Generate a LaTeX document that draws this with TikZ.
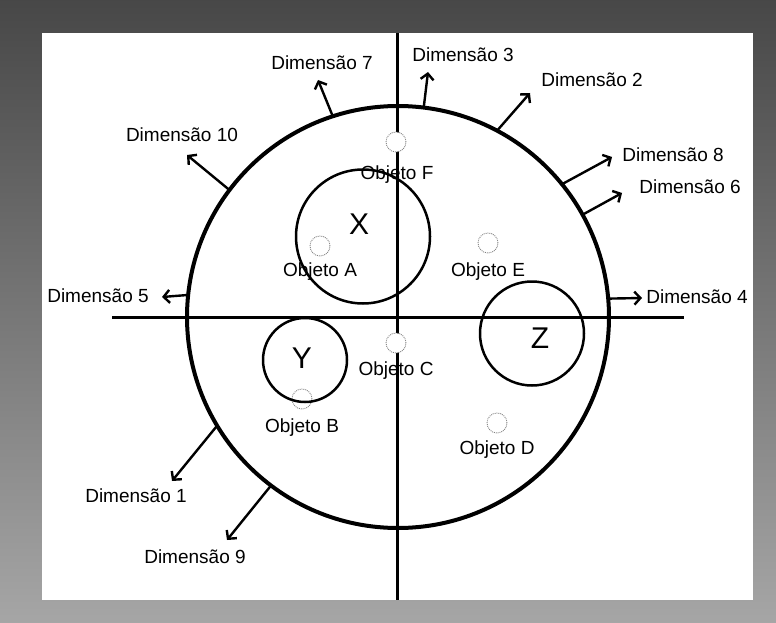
\documentclass[tikz,border=0pt]{standalone}
\usepackage{fontspec}
\setmainfont{Liberation Sans}
\usetikzlibrary{arrows.meta}
\begin{document}
\begin{tikzpicture}[x=1pt,y=-1pt,
  lbl/.style={font=\fontsize{19}{22}\selectfont, inner sep=0pt},
  letter/.style={font=\fontsize{30}{34}\selectfont, inner sep=0pt},
  ring/.style={draw, circle, inner sep=0pt, outer sep=0pt},
  obj/.style={draw=black!50, fill=white, densely dotted, circle, inner sep=0pt, outer sep=0pt, minimum size=20pt, line width=0.9pt},
  dimarrow/.style={line width=2.4pt, -{Straight Barb[length=6pt,width=13pt]}},
  axis/.style={line width=3pt}]
\useasboundingbox (0,0) rectangle (776,623);
\shade[top color=black!72, bottom color=black!35] (0,0) rectangle (776,623);
\fill[white] (42,33) rectangle (753,600);
% objects drawn below rings
\node[obj, fill=none] (oB) at (302,399) {};
% circles
\node[ring, line width=4pt, minimum size=422pt] (C) at (398,317) {};
\node[ring, line width=2.5pt, minimum size=134pt] (X) at (363,236.5) {};
\node[ring, line width=2.5pt, minimum size=84pt] (Y) at (305,360) {};
\node[ring, line width=2.5pt, minimum size=104pt] (Z) at (532,333.5) {};
% axes
\coordinate (vt) at (397,33);
\coordinate (vb) at (397,600);
\coordinate (hl) at (112,317);
\coordinate (hr) at (684,317);
\draw[axis] (vt) -- (vb);
\draw[axis] (hl) -- (hr);
% objects
\node[obj] (oF) at (396,142) {};
\node[obj] (oA) at (320,246) {};
\node[obj] (oE) at (488,243) {};
\node[obj] (oC) at (396,343) {};
\node[obj] (oD) at (497,423) {};
\node[lbl] (lF) at (397,175) {Objeto F};
\node[lbl] (lA) at (320,272) {Objeto A};
\node[lbl] (lE) at (488,272) {Objeto E};
\node[lbl] (lB) at (302,428) {Objeto B};
\node[lbl] (lC) at (396,371) {Objeto C};
\node[lbl] (lD) at (497,450) {Objeto D};
% cluster letters
\node[letter] (tX) at (359,224) {X};
\node[letter] (tY) at (302,358) {Y};
\node[letter] (tZ) at (540,338) {Z};
% dimension labels
\node[lbl] (d7) at (322,63) {Dimensão 7};
\node[lbl] (d10) at (182,135) {Dimensão 10};
\node[lbl] (d3) at (463,55) {Dimensão 3};
\node[lbl] (d2) at (592,80) {Dimensão 2};
\node[lbl] (d8) at (673,155) {Dimensão 8};
\node[lbl] (d6) at (690,187) {Dimensão 6};
\node[lbl] (d5) at (98,296) {Dimensão 5};
\node[lbl] (d4) at (697,297) {Dimensão 4};
\node[lbl] (d1) at (136,496) {Dimensão 1};
\node[lbl] (d9) at (195,557) {Dimensão 9};
% arrow ends
\coordinate (e7) at (318,80);
\coordinate (e10) at (187,155);
\coordinate (e3) at (428,72);
\coordinate (e2) at (530,93);
\coordinate (e8) at (612,157);
\coordinate (e6) at (622,193);
\coordinate (e5) at (162,297);
\coordinate (e4) at (642,298);
\coordinate (e1) at (172,481);
\coordinate (e9) at (227,540);
\draw[dimarrow] (C.108.1) -- (e7);
\draw[dimarrow] (C.143.4) -- (e10);
\draw[dimarrow] (C.83.2) -- (e3);
\draw[dimarrow] (C.62.9) -- (e2);
\draw[dimarrow] (C.39.5) -- (e8);
\draw[dimarrow] (C.29.3) -- (e6);
\draw[dimarrow] (C.174.6) -- (e5);
\draw[dimarrow] (C.5.1) -- (e4);
\draw[dimarrow] (C.211.5) -- (e1);
\draw[dimarrow] (C.233.4) -- (e9);
\end{tikzpicture}
\end{document}
